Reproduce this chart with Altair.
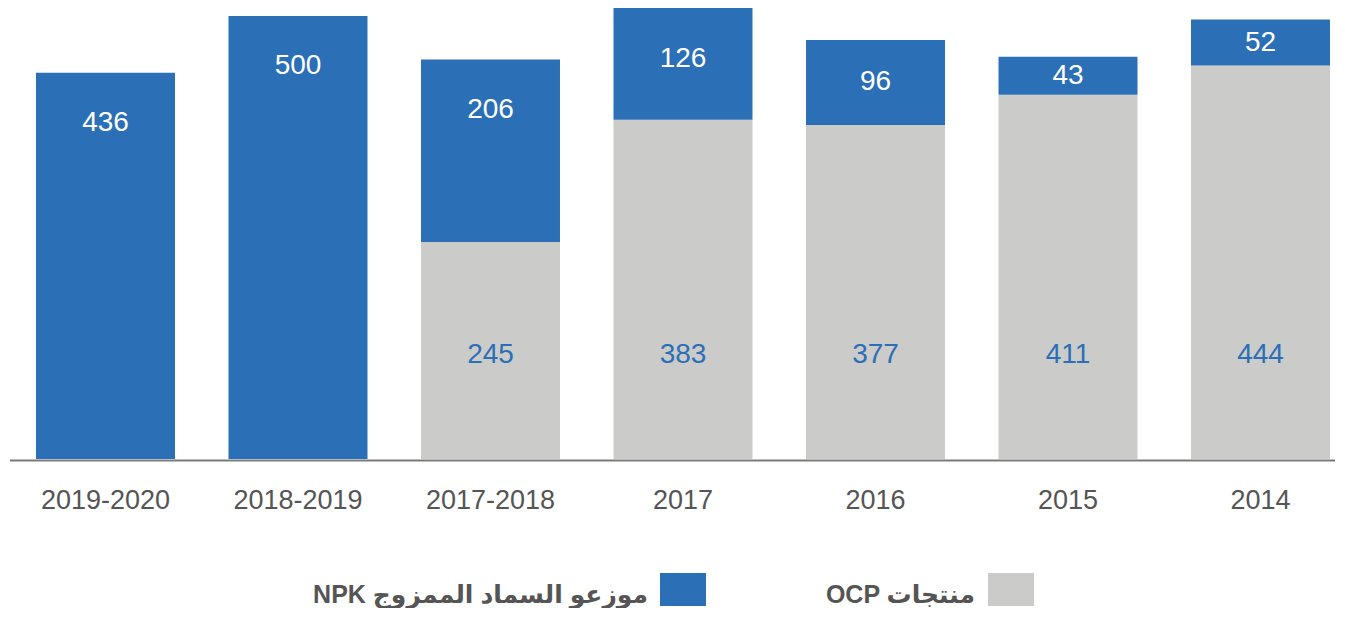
import altair as alt
import pandas as pd

# ---- data ----
categories = ["2019-2020", "2018-2019", "2017-2018", "2017", "2016", "2015", "2014"]
ocp_values = [0, 0, 245, 383, 377, 411, 444]      # grey, bottom segment
npk_values = [436, 500, 206, 126, 96, 43, 52]     # blue, top segment
legend_npk = "NPK موزعو السماد الممزوج"
legend_ocp = "OCP منتجات"

# ---- style ----
FONT = "Liberation Sans, DejaVu Sans"
BLUE = "#2B6FB6"
GREY = "#CBCBCA"
TEXT = "#555555"
W, H = 1328, 451
GREY_LABEL_Y = 117      # value-space height of the grey labels
TOP_LABEL_GAP = 57      # max distance (value units) of blue labels below bar top

rows = []
for c, o, n in zip(categories, ocp_values, npk_values):
    if o > 0:
        rows.append(dict(category=c, series="OCP", value=o, order=0,
                         label_y=GREY_LABEL_Y))
    top = o + n
    rows.append(dict(category=c, series="NPK", value=n, order=1,
                     label_y=max(o + n / 2, top - TOP_LABEL_GAP)))
df = pd.DataFrame(rows)
ymax = max(o + n for o, n in zip(ocp_values, npk_values))

x_enc = alt.X(
    "category:N",
    sort=categories,
    scale=alt.Scale(paddingInner=0.278, paddingOuter=0.0883, align=0.8235),
    axis=alt.Axis(title=None, domain=False, ticks=False, tickSize=0, labelAngle=0,
                  labelFontSize=27, labelColor=TEXT, labelFont=FONT,
                  labelBaseline="middle", labelPadding=41, grid=False),
)
y_scale = alt.Scale(domain=[0, ymax], nice=False)

bars = alt.Chart(df).mark_bar().encode(
    x=x_enc,
    y=alt.Y("value:Q", stack="zero", scale=y_scale, axis=None),
    color=alt.Color("series:N", scale=alt.Scale(domain=["OCP", "NPK"], range=[GREY, BLUE]),
                    legend=None),
    order=alt.Order("order:Q"),
)

text_npk = alt.Chart(df).transform_filter(alt.datum.series == "NPK").mark_text(
    fontSize=28, font=FONT, color="#FFFFFF", baseline="middle"
).encode(x=x_enc, y=alt.Y("label_y:Q", scale=y_scale, axis=None), text="value:Q")

text_ocp = alt.Chart(df).transform_filter(alt.datum.series == "OCP").mark_text(
    fontSize=28, font=FONT, color=BLUE, baseline="middle"
).encode(x=x_enc, y=alt.Y("label_y:Q", scale=y_scale, axis=None), text="value:Q")

base_df = pd.DataFrame({"v": [0]})
baseline = alt.Chart(base_df).mark_rule(color="#7A7A7A", strokeWidth=2).encode(
    x=alt.value(2), x2=alt.value(W - 1), y=alt.value(H + 1.5)
)

leg_df_npk = pd.DataFrame({"label": [legend_npk]})
leg_df_ocp = pd.DataFrame({"label": [legend_ocp]})

sw_npk = alt.Chart(leg_df_npk).mark_rect(color=BLUE).encode(
    x=alt.value(652), x2=alt.value(698), y=alt.value(565), y2=alt.value(598)
)
sw_ocp = alt.Chart(leg_df_ocp).mark_rect(color=GREY).encode(
    x=alt.value(980), x2=alt.value(1026), y=alt.value(565), y2=alt.value(598)
)
lt_npk = alt.Chart(leg_df_npk).mark_text(
    align="right", baseline="middle", fontSize=25, fontWeight="bold", color=TEXT, font=FONT
).encode(x=alt.value(640), y=alt.value(587), text="label:N")
lt_ocp = alt.Chart(leg_df_ocp).mark_text(
    align="right", baseline="middle", fontSize=25, fontWeight="bold", color=TEXT, font=FONT
).encode(x=alt.value(967), y=alt.value(587), text="label:N")

chart = alt.layer(
    bars, text_npk, text_ocp, baseline, sw_npk, sw_ocp, lt_npk, lt_ocp
).properties(
    width=W, height=H, padding=0
).configure_view(stroke=None)

chart.save("out.html", embed_options={"renderer": "svg", "actions": False})
